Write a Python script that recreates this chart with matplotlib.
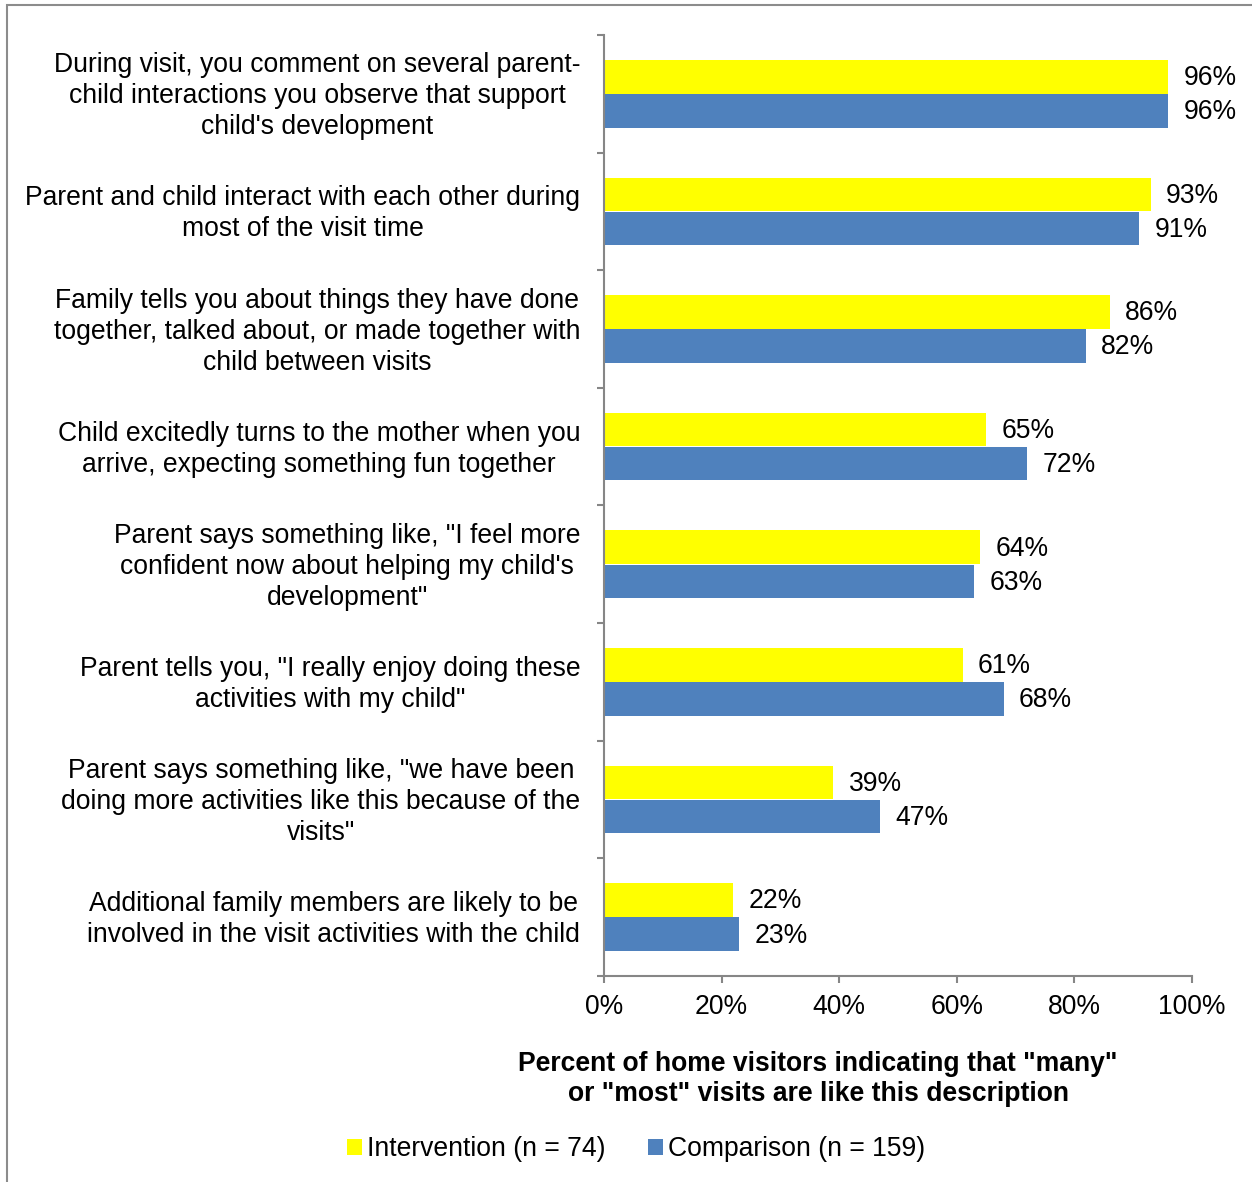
import matplotlib.pyplot as plt
from matplotlib.patches import Rectangle
from matplotlib.transforms import ScaledTranslation

plt.rcParams['font.family'] = ['Liberation Sans', 'DejaVu Sans']

# Survey items and percentages
items = [
    "During visit, you comment on several parent-\nchild interactions you observe that support\nchild's development",
    "Parent and child interact with each other during\nmost of the visit time",
    "Family tells you about things they have done\ntogether, talked about, or made together with\nchild between visits",
    "Child excitedly turns to the mother when you\narrive, expecting something fun together",
    "Parent says something like, \"I feel more\nconfident now about helping my child's\ndevelopment\"",
    "Parent tells you, \"I really enjoy doing these\nactivities with my child\"",
    "Parent says something like, \"we have been\ndoing more activities like this because of the\nvisits\"",
    "Additional family members are likely to be\ninvolved in the visit activities with the child",
]
intervention = [96, 93, 86, 65, 64, 61, 39, 22]
comparison = [96, 91, 82, 72, 63, 68, 47, 23]
xticks = [0, 20, 40, 60, 80, 100]

yellow = "#FFFF00"
blue = "#4F81BD"
grey = "#868686"
fs = 19.1

fig = plt.figure(figsize=(12.52, 11.82), dpi=100)
ax = fig.add_axes([0.4824, 0.1743, 0.4696, 0.7961])

pos = list(range(len(items)))
h = 0.285
off = 0.145
ax.barh([p - off for p in pos], intervention, height=h, color=yellow,
        label="Intervention (n = 74)")
ax.barh([p + off for p in pos], comparison, height=h, color=blue,
        label="Comparison (n = 159)")

for p, a, b in zip(pos, intervention, comparison):
    ax.annotate(f"{a}%", (a, p - off), xytext=(11, -1), textcoords="offset points",
                va="center", ha="left", fontsize=fs)
    ax.annotate(f"{b}%", (b, p + off), xytext=(11, -1), textcoords="offset points",
                va="center", ha="left", fontsize=fs)

ax.set_xlim(0, 100)
ax.set_ylim(len(items) - 0.5, -0.5)
ax.set_xticks(xticks)
ax.set_xticklabels([f"{t}%" for t in xticks], fontsize=fs)
ax.set_yticks(pos)
ax.set_yticklabels(items, fontsize=fs, multialignment="center", linespacing=1.25)
ax.set_yticks([p - 0.5 for p in range(len(items) + 1)], minor=True)
ax.tick_params(axis="y", which="major", length=0, pad=17)
ax.tick_params(axis="y", which="minor", length=5, width=1.5, color=grey)
ax.tick_params(axis="x", length=5, width=1.5, color=grey, pad=8)

# nudge category labels up a little
shift = ScaledTranslation(0, 0.03, fig.dpi_scale_trans)
for lbl in ax.get_yticklabels():
    lbl.set_transform(lbl.get_transform() + shift)

for s in ["top", "right"]:
    ax.spines[s].set_visible(False)
for s in ["left", "bottom"]:
    ax.spines[s].set_color(grey)
    ax.spines[s].set_linewidth(1.5)

fig.text(0.6534, 0.087,
         "Percent of home visitors indicating that \"many\"\nor \"most\" visits are like this description",
         ha="center", va="center", fontsize=fs, fontweight="bold", linespacing=1.22)

fig.legend(loc="center", bbox_to_anchor=(0.508, 0.028), ncol=2, frameon=False,
           fontsize=fs, handlelength=0.55, handleheight=0.55, handletextpad=0.2,
           columnspacing=1.6)

# outer frame
fig.patches.append(Rectangle((7 / 1252, -0.1), 2, 1.1 - 5 / 1182, transform=fig.transFigure,
                             fill=False, edgecolor="#8c8c8c", linewidth=1.5))

fig.savefig("out.png", dpi=100)
